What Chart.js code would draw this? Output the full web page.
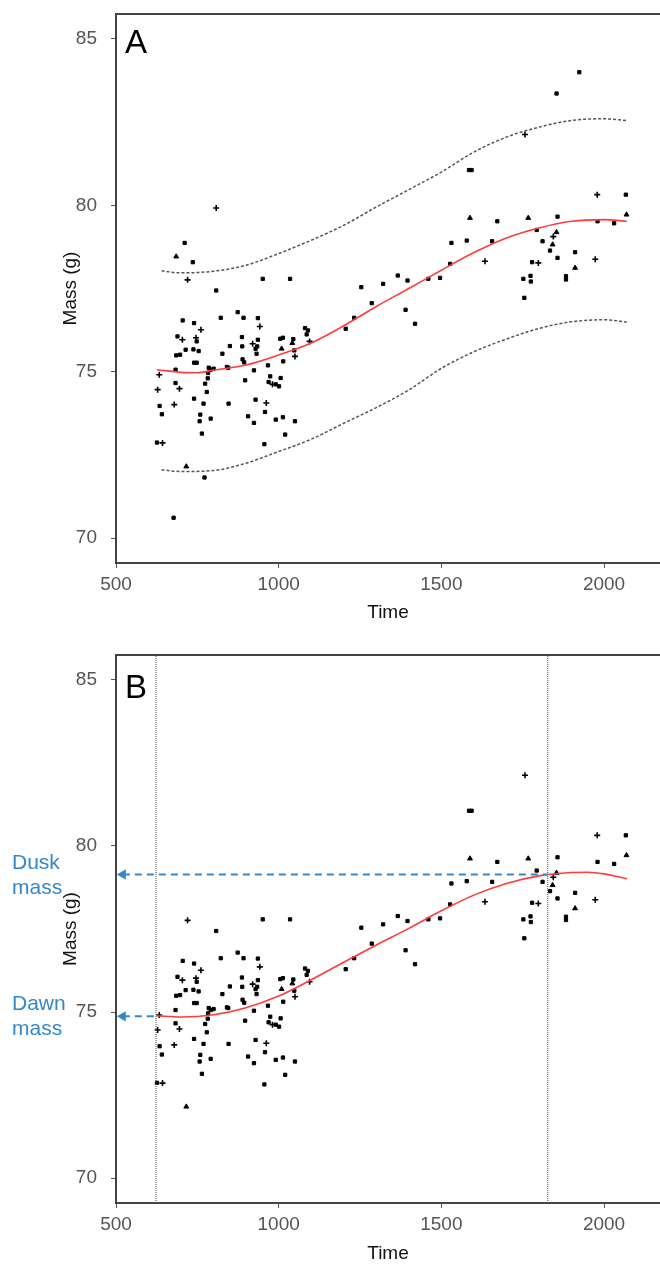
<!DOCTYPE html>
<html><head><meta charset="utf-8">
<script src="https://cdn.jsdelivr.net/npm/chart.js@4.4.1/dist/chart.umd.min.js"></script>
<style>
html,body{margin:0;padding:0;background:#fff;overflow:hidden;width:660px;height:1266px}
#ca{position:absolute;left:0;top:0}
#cb{position:absolute;left:0;top:640px}
</style></head><body>
<canvas id="ca" width="660" height="640"></canvas>
<canvas id="cb" width="660" height="626"></canvas>
<script>
// ---- observations kept in both panels ----
const obsTime = [720,808,951,1035,1366,
705,740,761,689,704,746,748,714,738,754,685,697,740,748,822,874,892,936,942,887,850,827,888,889,894,920,929,932,936,934,841,845,785,791,800,783,782,774,779,683,633,628,683,695,634,641,679,740,769,759,757,791,764,626,643,716,846,897,924,906,924,929,962,958,956,967,974,969,981,991,1001,1006,1014,1009,1005,1013,991,1013,1020,1050,1042,1045,1048,1050,1081,1090,1086,1095,1206,1232,1254,1286,1321,
1585,1593,1757,1979,2067,2069,1980,2031,1857,1588,1672,1767,1793,1854,1844,1811,1842,1834,1857,1911,1911,1973,1779,1798,1883,1883,1752,1774,1775,1755,1531,1578,1656,1634,1527,1496,1460,1396,1390,1419];
const obsMass = [77.76,77.44,77.79,77.79,77.89,
76.54,76.46,76.26,76.06,75.96,76.02,75.91,75.66,75.67,75.62,75.49,75.51,75.27,75.27,76.62,76.79,76.62,76.61,76.36,76.04,75.77,75.54,75.76,75.37,75.28,75.84,75.69,75.54,75.96,75.76,75.14,75.12,75.12,75.06,75.09,74.96,74.80,74.64,74.39,75.06,74.91,74.46,74.66,74.49,73.97,73.72,74.01,74.19,74.04,73.71,73.51,73.59,73.14,72.87,72.86,72.15,74.04,74.74,75.04,73.66,73.46,74.16,74.06,73.79,72.82,75.19,74.86,74.69,74.62,74.62,74.56,74.81,75.31,75.69,75.99,76.02,73.56,73.63,73.11,73.51,75.86,75.98,75.64,75.46,76.31,76.24,76.12,75.91,76.29,76.62,77.54,77.06,77.64,
81.06,81.06,82.13,80.32,80.32,79.72,79.52,79.46,79.66,79.62,79.52,79.62,79.26,79.19,79.06,78.92,78.82,78.64,78.42,78.59,78.12,78.38,78.29,78.27,77.87,77.77,77.79,77.88,77.71,77.22,78.87,78.94,78.92,78.32,78.24,77.82,77.79,77.74,76.86,76.44];
const obsMark = ['c','r','r','r','r',
'r','r','c','r','c','c','r','r','r','r','r','r','r','r','r','r','r','r','c','r','r','r','r','r','r','c','r','r','r','r','r','r','r','r','r','r','r','r','r','r','c','c','r','c','r','r','c','r','r','r','r','r','r','r','c','t','r','r','r','r','r','r','c','r','r','r','r','r','c','r','r','r','r','t','r','r','r','r','r','r','t','r','r','c','r','r','r','c','r','r','r','r','r',
'r','r','c','c','r','t','r','r','r','t','r','t','r','t','c','r','t','r','r','r','t','c','r','c','r','r','r','r','r','r','r','r','r','c','r','r','r','r','r','r'];

// ---- outliers shown only in panel A ----
const outTime = [808,711,685,736,1924,1854,677,772];
const outMass = [79.92,78.87,78.46,78.29,84.00,83.36,70.61,71.82];
const outMark = ['c','r','t','r','r','r','r','r'];

// ---- panel A fit and prediction band ----
const fitTimeA  = [625,700,750,800,900,1000,1100,1200,1300,1400,1500,1600,1700,1800,1900,2000,2070];
const fitMassA  = [75.06,74.98,74.97,75.05,75.2,75.5,75.86,76.38,76.96,77.5,78.05,78.58,79.02,79.32,79.52,79.57,79.52];
const bandTimeA = [640,700,800,900,1000,1100,1200,1300,1400,1500,1600,1700,1800,1900,2000,2070];
const upperA    = [78.03,77.97,78.02,78.2,78.55,78.95,79.4,79.95,80.47,81.0,81.6,82.05,82.35,82.55,82.6,82.55];
const lowerA    = [72.05,72.0,72.03,72.25,72.6,72.97,73.45,73.92,74.45,75.1,75.6,75.98,76.3,76.5,76.56,76.49];

// ---- panel B fit ----
const fitTimeB = [625,700,800,900,1000,1100,1200,1300,1400,1500,1600,1700,1800,1900,1950,2000,2070];
const fitMassB = [74.89,74.85,74.92,75.13,75.48,75.97,76.5,77.02,77.52,78.05,78.52,78.87,79.1,79.2,79.21,79.16,79.01];

const dawnTime = 623, dawnMass = 74.87;
const duskTime = 1827, duskMass = 79.14;
const arrowTipTime = 521;

const xTicks = [500,1000,1500,2000];
const yTicks = [70,75,80,85];
const xMin = 500, xMax = 2172, yMin = 69.25, yMax = 85.75;

const FONT = "'Liberation Sans', Arial, sans-serif";
const BLUE = '#3388cc';

function pts(xs, ys){ return xs.map((x,i)=>({x:x, y:ys[i]})); }
function styleOf(k){ return k==='c'?'cross':(k==='t'?'triangle':'rect'); }
function radOf(k){ return k==='c'?3:(k==='t'?2.8:2.3); }

function scatterSet(xs, ys, marks){
  return {type:'scatter', data: pts(xs,ys), pointStyle: marks.map(styleOf), pointRadius: marks.map(radOf),
    pointBackgroundColor:'#000', pointBorderColor:'#000', pointBorderWidth: marks.map(k=>k==='c'?1.6:1), order:3};
}
function lineSet(xs, ys, color, width, dash){
  return {type:'line', data: pts(xs,ys), borderColor: color, borderWidth: width, borderDash: dash||[],
    pointRadius:0, fill:false, cubicInterpolationMode:'monotone', order:1};
}

const framePlugin = {
  id:'frame',
  afterDraw(chart, args, opts){
    const {ctx, chartArea} = chart;
    ctx.save();
    ctx.strokeStyle = '#444'; ctx.lineWidth = 2;
    ctx.beginPath(); ctx.moveTo(chartArea.left-1, chartArea.top); ctx.lineTo(chart.width, chartArea.top); ctx.stroke();
    ctx.fillStyle = '#000'; ctx.font = '33px ' + FONT; ctx.textBaseline = 'alphabetic'; ctx.textAlign = 'left';
    ctx.fillText(opts.letter, chartArea.left + 9, chartArea.top + opts.letterDy);
    if (opts.notes) {
      ctx.fillStyle = BLUE; ctx.font = '21px ' + FONT;
      const ys = chart.scales.y;
      opts.notes.forEach(n => {
        const py = ys.getPixelForValue(n.value);
        ctx.fillText(n.lines[0], 12, py - 6);
        ctx.fillText(n.lines[1], 12, py + 19);
      });
    }
    ctx.restore();
  }
};

function noPad(s){ s.paddingTop = 0; s.paddingBottom = 0; s.paddingLeft = 0; s.paddingRight = 0; }

function makeChart(id, datasets, xAxisH, titlePadB, padTop, letter, letterDy, notes){
  return new Chart(document.getElementById(id), {
    data: {datasets},
    plugins:[framePlugin],
    options: {
      responsive:false, devicePixelRatio:1, animation:false,
      layout:{autoPadding:false, padding:{left:54, top:padTop, right:0, bottom:0}},
      plugins:{legend:{display:false}, tooltip:{enabled:false}, frame:{letter, letterDy, notes}},
      scales:{
        x:{type:'linear', position:'bottom', min:xMin, max:xMax,
          afterBuildTicks: s => { s.ticks = xTicks.map(v=>({value:v})); },
          afterFit: s => { s.height = xAxisH; noPad(s); },
          ticks:{font:{family:FONT, size:19}, color:'#555', padding:5, maxRotation:0, callback: v => String(v)},
          grid:{drawOnChartArea:false, drawTicks:true, tickLength:5, color:'#555', lineWidth:1},
          border:{display:true, color:'#444', width:2},
          title:{display:true, text:'Time', font:{family:FONT, size:19}, color:'#111', padding:{top:0, bottom:titlePadB}}},
        y:{type:'linear', position:'left', min:yMin, max:yMax,
          afterBuildTicks: s => { s.ticks = yTicks.map(v=>({value:v})); },
          afterFit: s => { s.width = 116 - 54; noPad(s); },
          ticks:{font:{family:FONT, size:19}, color:'#555', padding:14, callback: v => String(v)},
          grid:{drawOnChartArea:false, drawTicks:true, tickLength:5, color:'#555', lineWidth:1},
          border:{display:true, color:'#444', width:2},
          title:{display:true, text:'Mass (g)', font:{family:FONT, size:19}, color:'#111', padding:{top:5, bottom:0}}}
      }
    }
  });
}

// Panel A
makeChart('ca', [
  lineSet(bandTimeA, upperA, '#555', 1.5, [3,2]),
  lineSet(bandTimeA, lowerA, '#555', 1.5, [3,2]),
  lineSet(fitTimeA, fitMassA, '#ff3b3b', 1.6),
  scatterSet(obsTime, obsMass, obsMark),
  scatterSet(outTime, outMass, outMark)
], 77, 16, 14, 'A', 39, null);

// Panel B
const vDawn = {type:'line', data:[{x:dawnTime,y:yMin},{x:dawnTime,y:yMax}], borderColor:'#444', borderWidth:1, borderDash:[1,1], pointRadius:0, order:2};
const vDusk = {type:'line', data:[{x:duskTime,y:yMin},{x:duskTime,y:yMax}], borderColor:'#444', borderWidth:1, borderDash:[1,1], pointRadius:0, order:2};
function arrowSet(t, m){
  return {type:'line', data:[{x:arrowTipTime,y:m},{x:t,y:m}], borderColor:BLUE, borderWidth:2, borderDash:[7,5],
    pointStyle:'triangle', pointRotation:-90, pointRadius:[6,0], pointBackgroundColor:BLUE, pointBorderColor:BLUE, pointBorderWidth:0, order:0, clip:false};
}
makeChart('cb', [
  vDawn, vDusk,
  arrowSet(dawnTime, dawnMass), arrowSet(duskTime, duskMass),
  lineSet(fitTimeB, fitMassB, '#ff3b3b', 1.6),
  scatterSet(obsTime, obsMass, obsMark)
], 63, 1, 15, 'B', 43, [{value:duskMass, lines:['Dusk','mass']},{value:dawnMass, lines:['Dawn','mass']}]);
</script>
</body></html>
